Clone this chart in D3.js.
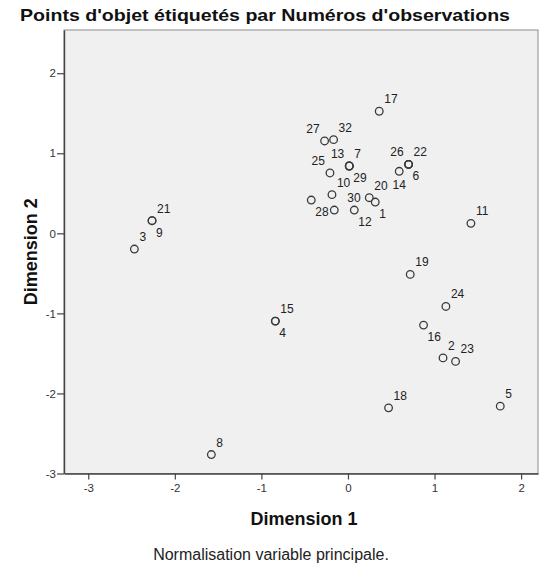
<!DOCTYPE html>
<html>
<head>
<meta charset="utf-8">
<script src="https://cdn.jsdelivr.net/npm/d3@7"></script>
<style>
  html, body { margin: 0; padding: 0; background: #ffffff; }
  svg { display: block; font-family: Arial, "Liberation Sans", sans-serif; }
</style>
</head>
<body>
<svg id="chart" width="539" height="570"></svg>
<script>
// Object scores, labelled by case number (case 31 is absent)
const caseNumbers = ["1","2","3","4","5","6","7","8","9","10","11","12","13","14","15","16",
                     "17","18","19","20","21","22","23","24","25","26","27","28","29","30","32"];
const dimension1 = [0.315, 1.098, -2.467, -0.839, 1.759, 0.700, 0.015, -1.578, -2.263, -0.185,
                    1.420, 0.073, 0.015, 0.592, -0.839, 0.873, 0.361, 0.469, 0.719, 0.246,
                    -2.263, 0.700, 1.243, 1.131, -0.208, 0.700, -0.270, -0.424, 0.015, -0.158, -0.166];
const dimension2 = [0.391, -1.556, -0.196, -1.096, -2.159, 0.862, 0.841, -2.763, 0.158, 0.483,
                    0.125, 0.291, 0.841, 0.775, -1.096, -1.146, 1.525, -2.180, -0.513, 0.445,
                    0.158, 0.862, -1.600, -0.913, 0.754, 0.862, 1.154, 0.416, 0.841, 0.291, 1.170];
// Where each case label sits around its point (ur = upper right, lr = lower right, ul = upper left, b = below)
const labelSide = ["lr","ur","ur","lr","ur","lr","ur","ur","lr","ur",
                   "ur","lr","ul","b","ur","lr","ur","ur","ur","ur",
                   "ur","ur","ur","ur","ul","ul","ul","lr","lr","urw","ur"];

const xTicks = [-3, -2, -1, 0, 1, 2];
const yTicks = [-3, -2, -1, 0, 1, 2];

const chartTitle = "Points d'objet étiquetés par Numéros d'observations";
const xTitle = "Dimension 1";
const yTitle = "Dimension 2";
const footNote = "Normalisation variable principale.";

const svg = d3.select("#chart");
const plot = { left: 64, top: 30, right: 538, bottom: 473.5 };

const x = d3.scaleLinear().domain([-3.28, 2.195]).range([plot.left, plot.right]);
const y = d3.scaleLinear().domain([-3, 2.54]).range([plot.bottom, plot.top]);

// plot frame
svg.append("rect")
  .attr("x", plot.left).attr("y", plot.top)
  .attr("width", plot.right - plot.left).attr("height", plot.bottom - plot.top)
  .attr("fill", "#f0f0f0").attr("stroke", "#8c8c8c").attr("stroke-width", 1);

// axes
const fmt = d => d3.format("d")(d).replace("\u2212", "-");
const xAxis = svg.append("g")
  .attr("transform", `translate(0,${plot.bottom})`)
  .call(d3.axisBottom(x).tickValues(xTicks).tickFormat(fmt).tickSize(6).tickSizeOuter(0));
const yAxis = svg.append("g")
  .attr("transform", `translate(${plot.left},0)`)
  .call(d3.axisLeft(y).tickValues(yTicks).tickFormat(fmt).tickSize(7).tickSizeOuter(0));

[xAxis, yAxis].forEach(g => {
  g.select(".domain").attr("stroke", "#444").attr("stroke-width", 1.4);
  g.selectAll(".tick line").attr("stroke", "#444").attr("stroke-width", 1.2);
  g.selectAll(".tick text")
    .attr("fill", "#333").style("font-size", "11.5px")
    .style("font-family", "Arial, 'Liberation Sans', sans-serif");
});
xAxis.selectAll(".tick text").attr("dy", "0.85em").attr("y", 9);
yAxis.selectAll(".tick text").attr("x", -8);

// points
const rows = caseNumbers.map((c, i) => ({ c, d1: dimension1[i], d2: dimension2[i], side: labelSide[i] }));

svg.append("g").selectAll("circle")
  .data(rows).join("circle")
  .attr("cx", d => x(d.d1)).attr("cy", d => y(d.d2))
  .attr("r", 3.8)
  .attr("fill", "none").attr("stroke", "#3a3a3a").attr("stroke-width", 1.3);

const place = {
  ur:  { dx: 5,  dy: -8,  anchor: "start" },
  urw: { dx: 13, dy: -8,  anchor: "start" },
  lr:  { dx: 4,  dy: 16,  anchor: "start" },
  ul:  { dx: -5, dy: -8,  anchor: "end" },
  b:   { dx: 0,  dy: 18,  anchor: "middle" }
};

svg.append("g").selectAll("text")
  .data(rows).join("text")
  .attr("x", d => x(d.d1) + place[d.side].dx)
  .attr("y", d => y(d.d2) + place[d.side].dy)
  .attr("text-anchor", d => place[d.side].anchor)
  .attr("fill", "#222").style("font-size", "12px")
  .text(d => d.c);

// titles
svg.append("text")
  .attr("x", 265).attr("y", 21).attr("text-anchor", "middle")
  .attr("textLength", 490).attr("lengthAdjust", "spacingAndGlyphs")
  .style("font-size", "17px").style("font-weight", "bold").attr("fill", "#111")
  .text(chartTitle);

svg.append("text")
  .attr("x", (plot.left + plot.right) / 2 + 3).attr("y", 525).attr("text-anchor", "middle")
  .style("font-size", "18px").style("font-weight", "bold").attr("fill", "#111")
  .text(xTitle);

svg.append("text")
  .attr("transform", `translate(37,${(plot.top + plot.bottom) / 2}) rotate(-90)`)
  .attr("text-anchor", "middle")
  .style("font-size", "18px").style("font-weight", "bold").attr("fill", "#111")
  .text(yTitle);

svg.append("text")
  .attr("x", 271).attr("y", 560).attr("text-anchor", "middle")
  .style("font-size", "16px").attr("fill", "#222")
  .text(footNote);
</script>
</body>
</html>
